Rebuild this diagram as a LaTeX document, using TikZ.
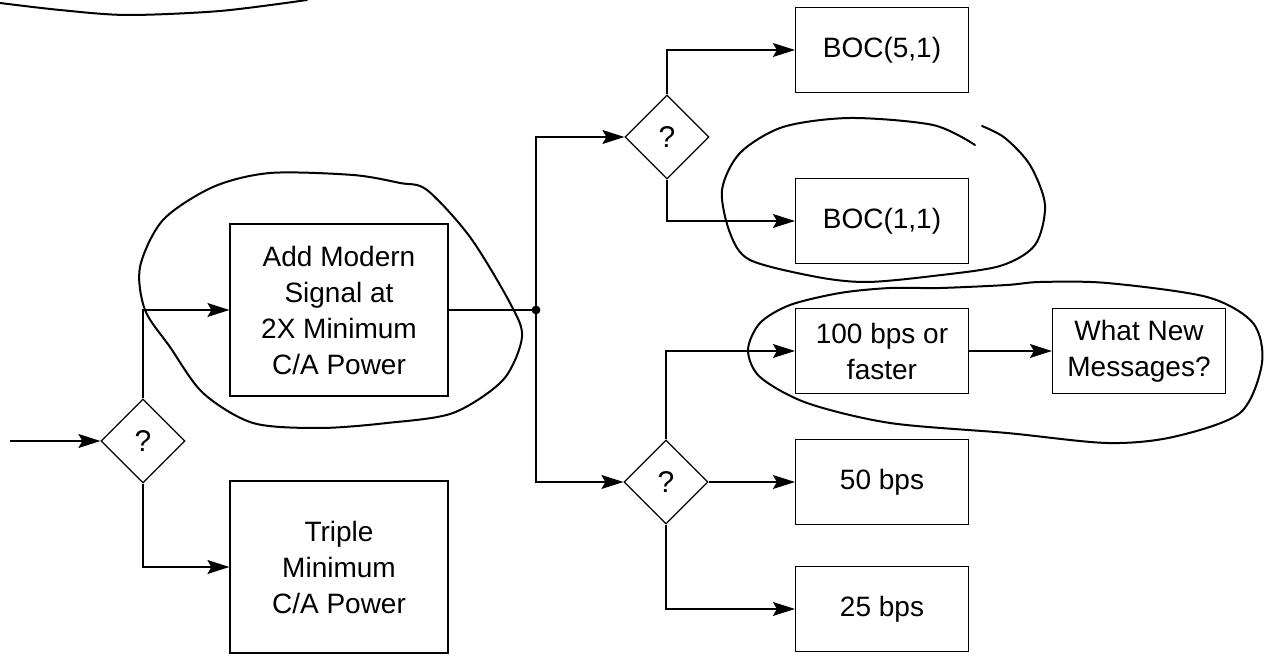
\documentclass[tikz,border=0pt]{standalone}
\usepackage{fontspec}
\setmainfont{Liberation Sans}
\usetikzlibrary{arrows.meta,shapes.geometric}

\begin{document}
\begin{tikzpicture}[
  x=0.5pt, y=-0.5pt,
  box/.style={draw, line width=0.6pt, align=center, inner sep=2pt,
    font=\fontsize{14}{18}\selectfont},
  wide/.style={box, minimum width=109pt, minimum height=86pt},
  small/.style={box, minimum width=86.5pt, minimum height=42.5pt},
  ask/.style={draw, line width=0.6pt, diamond, minimum width=42pt, minimum height=42pt,
    inner sep=0pt, font=\fontsize{15}{17}\selectfont},
  arr/.style={-{Stealth[length=11pt,width=7pt,inset=2pt]}, line width=0.6pt},
  pen/.style={line width=1pt, line cap=round, line join=round},
]
\useasboundingbox (0,0) rectangle (1275,656);

% decision points
\node[ask] (q1) at (143,441) {?};
\node[ask] (q2) at (667,137) {?};
\node[ask] (q3) at (666,482) {?};

% boxes
\node[wide] (addmod) at (339,310) {Add Modern\\Signal at\\2X Minimum\\C/A Power};
\node[wide] (triple) at (339,567) {Triple\\Minimum\\C/A Power};
\node[small] (boc51) at (882,50) {BOC(5,1)};
\node[small] (boc11) at (882,221) {BOC(1,1)};
\node[small] (fast) at (882,351) {100 bps or\\faster};
\node[small] (msgs) at (1139,351) {What New\\Messages?};
\node[small] (bps50) at (882,482) {50 bps};
\node[small] (bps25) at (882,609) {25 bps};

\coordinate (in) at (10,441);
\coordinate (jn) at (536,310);

% connectors
\draw[arr] (in) -- (q1);
\draw[arr] (q1.north) |- (addmod);
\draw[arr] (q1.south) |- (triple);
\draw[line width=0.6pt] (addmod) -- (jn);
\fill (jn) circle (2.2pt);
\draw[arr] (jn) |- (q2);
\draw[arr] (jn) |- (q3);
\draw[arr] (q2.north) |- (boc51);
\draw[arr] (q2.south) |- (boc11);
\draw[arr] (q3.north) |- (fast);
\draw[arr] (q3) -- (bps50);
\draw[arr] (q3.south) |- (bps25);
\draw[arr] (fast) -- (msgs);

% hand drawn marks
\draw[pen] plot[smooth] coordinates {(0,3) (60,10) (127,15) (220,11) (307,0)};
\draw[pen] plot[smooth cycle] coordinates {(400,183) (353,175) (270,173) (213,187)
  (163,220) (140,267) (145,310) (170,347) (203,393) (253,423) (320,428) (387,423)
  (453,413) (503,380) (522,337) (510,303) (470,237) (427,190)};
\draw[pen] plot[smooth] coordinates {(975,145) (933,125) (850,118) (783,127) (740,153)
  (722,190) (730,233) (750,260) (817,277) (867,282) (933,276) (1000,266) (1035,245)
  (1045,205) (1030,165) (1005,138) (982,126)};
\draw[pen] plot[smooth cycle] coordinates {(1007,285) (940,288) (890,288) (840,293)
  (790,305) (760,323) (748,350) (760,377) (807,403) (890,423) (1007,433) (1107,443)
  (1173,437) (1240,413) (1262,363) (1253,323) (1207,297) (1107,283) (1040,282)};
\end{tikzpicture}
\end{document}
